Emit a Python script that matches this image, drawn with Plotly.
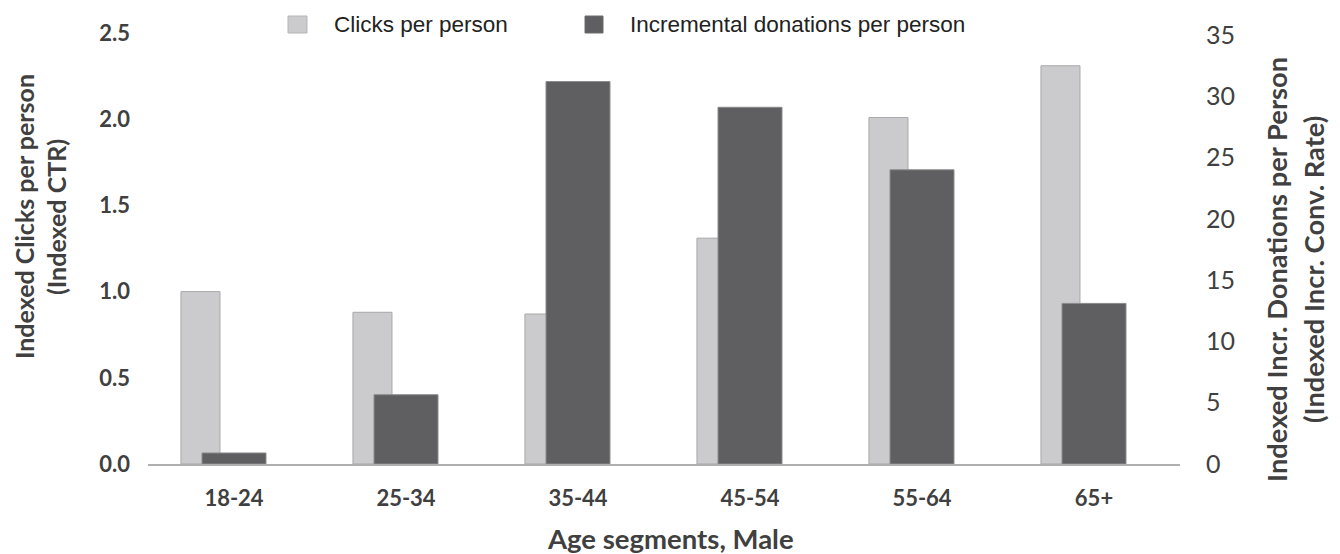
import plotly.graph_objects as go

# Age segments and indexed metrics
age_segments = ["18-24", "25-34", "35-44", "45-54", "55-64", "65+"]
clicks_per_person = [1.00, 0.88, 0.87, 1.31, 2.01, 2.31]
donations_per_person = [0.9, 5.65, 31.2, 29.1, 24.0, 13.1]

left_ticks = [0.0, 0.5, 1.0, 1.5, 2.0, 2.5]
left_tick_text = ["0.0", "0.5", "1.0", "1.5", "2.0", "2.5"]
right_ticks = [0, 5, 10, 15, 20, 25, 30, 35]

W, H = 1340, 554
M_L, M_R, M_T, M_B = 148, 160, 33, 90
PW, PH = W - M_L - M_R, H - M_T - M_B


def px(x):
    return (x - M_L) / PW


def py(y):
    return 1 - (y - M_T) / PH


LIGHT = "#cbcbcd"
DARK = "#5f5f62"
TEXT = "#404040"
BOLD_TICK_FONT = dict(family="Lato", size=22, color=TEXT, weight="bold")
RIGHT_TICK_FONT = dict(family="Lato", size=25, color=TEXT)

fig = go.Figure()
fig.add_trace(go.Bar(
    x=age_segments, y=clicks_per_person, name="Clicks per person",
    yaxis="y", width=0.227, offset=-0.3085,
    marker=dict(color=LIGHT, line=dict(color="#a8a8aa", width=1)),
))
fig.add_trace(go.Bar(
    x=age_segments, y=donations_per_person, name="Incremental donations per person",
    yaxis="y2", width=0.372, offset=-0.186,
    marker=dict(color=DARK, line=dict(color="#8a8a8c", width=1)),
))

fig.update_layout(
    width=W, height=H,
    margin=dict(l=M_L, r=M_R, t=M_T, b=M_B),
    paper_bgcolor="white", plot_bgcolor="white",
    showlegend=False, barmode="overlay",
    xaxis=dict(
        type="category", showgrid=False, zeroline=False,
        showline=True, linecolor="#b0b0b0", linewidth=2,
        ticks="", tickfont=BOLD_TICK_FONT, ticklabelstandoff=14,
    ),
    yaxis=dict(
        range=[0, 2.5], tickvals=left_ticks, ticktext=left_tick_text,
        showgrid=False, zeroline=False, showline=False, ticks="",
        tickfont=BOLD_TICK_FONT, ticklabelstandoff=17,
    ),
    yaxis2=dict(
        range=[0, 35.16], tickvals=right_ticks, overlaying="y", side="right",
        showgrid=False, zeroline=False, showline=False, ticks="",
        tickfont=RIGHT_TICK_FONT, ticklabelstandoff=25,
    ),
)

# Axis titles
LEFT_TITLE = dict(family="Lato", size=25, color=TEXT, weight="bold")
RIGHT_TITLE = dict(family="Lato", size=27.3, color=TEXT, weight="bold")
X_TITLE = dict(family="Lato", size=27.5, color=TEXT, weight="bold")
annotations = [
    dict(text="Indexed Clicks per person", x=px(24), y=py(217), textangle=-90, font=LEFT_TITLE),
    dict(text="(Indexed CTR)", x=px(56), y=py(217), textangle=-90, font=LEFT_TITLE),
    dict(text="Indexed Incr. Donations per Person", x=px(1276), y=py(270), textangle=-90, font=RIGHT_TITLE),
    dict(text="(Indexed Incr. Conv. Rate)", x=px(1313), y=py(270), textangle=-90, font=RIGHT_TITLE),
    dict(text="Age segments, Male", x=px(670), y=py(538), font=X_TITLE),
]
for a in annotations:
    fig.add_annotation(xref="paper", yref="paper", showarrow=False,
                       xanchor="center", yanchor="middle", **a)

# Legend keys and labels
LEG_FONT = dict(family="Liberation Sans, Arial", size=22.5, color="#222222")
for x0, x1, color, edge, label, tx in [
    (288, 307, LIGHT, "#b5b5b7", "Clicks per person", 332),
    (585, 603, DARK, "#6c6c6e", "Incremental donations per person", 628),
]:
    fig.add_shape(type="rect", xref="paper", yref="paper",
                  x0=px(x0), x1=px(x1), y0=py(33), y1=py(16),
                  fillcolor=color, line=dict(color=edge, width=1))
    fig.add_annotation(xref="paper", yref="paper", showarrow=False,
                       x=px(tx), y=py(25), xanchor="left", yanchor="middle",
                       text=label, font=LEG_FONT)

fig.write_html("out.html")
